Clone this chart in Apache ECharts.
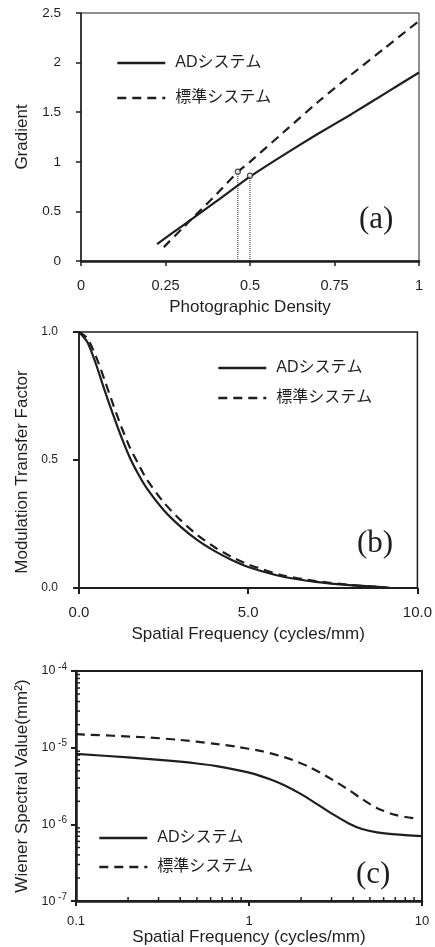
<!DOCTYPE html>
<html>
<head>
    <meta charset="utf-8">
    <title>AD system vs standard system</title>
    <script src="https://cdn.jsdelivr.net/npm/echarts@6/dist/echarts.min.js"></script>
    <style>
        html, body {
            margin: 0;
            width: 100%;
            height: 100%;
            background: #fff;
        }

        #main {
            width: 435px;
            height: 947px;
        }
    </style>
</head>
<body>
<div id="main"></div>
<script type="text/javascript">
    var myChart = echarts.init(document.getElementById('main'));

    const nameAD = 'ADシステム'
    const nameStd = '標準システム'

    // (a) gradient vs photographic density
    const gradAD = [[0.225, 0.17], [0.3, 0.355], [0.4, 0.6], [0.5, 0.85], [0.6, 1.07], [0.7, 1.28], [0.8, 1.48], [0.9, 1.69], [1.0, 1.9]]
    const gradStd = [[0.245, 0.14], [0.3, 0.33], [0.35, 0.5], [0.4, 0.67], [0.465, 0.9], [0.5, 1.0], [0.6, 1.3], [0.7, 1.6], [0.8, 1.88], [0.9, 2.15], [1.0, 2.42]]
    const markStd = [0.464, 0.9]
    const markAD = [0.5, 0.86]

    // (b) MTF
    const mtfFreq = [0, 0.25, 0.5, 0.75, 1, 1.25, 1.5, 1.75, 2, 2.5, 3, 3.5, 4, 4.5, 5, 6, 7, 8, 9, 9.2]
    const mtfAD = [1.0, 0.96, 0.875, 0.775, 0.68, 0.59, 0.51, 0.445, 0.39, 0.305, 0.24, 0.187, 0.145, 0.11, 0.082, 0.045, 0.024, 0.011, 0.003, 0]
    const mtfStd = [1.0, 0.975, 0.905, 0.815, 0.72, 0.63, 0.55, 0.485, 0.425, 0.335, 0.265, 0.207, 0.16, 0.122, 0.092, 0.05, 0.027, 0.012, 0.003, 0]

    // (c) Wiener spectrum
    const wsFreqAD = [0.1, 0.2, 0.33, 0.5, 0.65, 1.0, 1.3, 1.6, 2.0, 2.5, 3.0, 3.8, 4.5, 5.5, 7, 10]
    const wsAD = [8.3e-6, 7.48e-6, 6.82e-6, 6.22e-6, 5.75e-6, 4.74e-6, 3.94e-6, 3.24e-6, 2.48e-6, 1.81e-6, 1.39e-6, 1.02e-6, 8.7e-7, 7.87e-7, 7.41e-7, 7.03e-7]
    const wsFreqStd = [0.1, 0.25, 0.4, 0.62, 0.85, 1.16, 1.5, 1.8, 2.2, 2.57, 3.2, 3.84, 4.5, 5.47, 7, 9]
    const wsStd = [1.5e-5, 1.368e-5, 1.262e-5, 1.13e-5, 1.028e-5, 9.08e-6, 7.87e-6, 6.87e-6, 5.68e-6, 4.74e-6, 3.56e-6, 2.74e-6, 2.14e-6, 1.64e-6, 1.33e-6, 1.2e-6]

    const ink = '#1e1e1e'
    const sans = "'Liberation Sans', Arial, sans-serif"
    const jp = "'Liberation Sans', 'Noto Sans CJK JP', sans-serif"

    // minor ticks for the log panel (2..9 in each decade)
    const minorX = []
    const minorY = []
    ;[0.1, 1].forEach(d => { for (let i = 2; i < 10; i++) minorX.push([d * i, 1e-7]) })
    ;[1e-7, 1e-6, 1e-5].forEach(d => { for (let i = 2; i < 10; i++) minorY.push([0.1, d * i]) })

    const zip = (xs, ys) => xs.map((x, i) => [x, ys[i]])

    function lineSeries(name, data, idx, dashed) {
        return {
            name: name,
            type: 'line',
            xAxisIndex: idx,
            yAxisIndex: idx,
            data: data,
            symbol: 'none',
            smooth: 0.25,
            silent: true,
            itemStyle: {color: ink},
            lineStyle: {
                color: ink,
                width: 2.2,
                type: dashed ? [9, 6] : 'solid'
            }
        }
    }

    function dropLine(p) {
        return {
            type: 'line',
            xAxisIndex: 0,
            yAxisIndex: 0,
            data: [[p[0], 0], p],
            symbol: 'none',
            lineStyle: {color: ink, width: 1, type: [1, 1]},
            silent: true
        }
    }

    function tickSeries(data, horizontal) {
        return {
            type: 'custom',
            xAxisIndex: 2,
            yAxisIndex: 2,
            data: data,
            silent: true,
            clip: false,
            renderItem: function (params, api) {
                const p = api.coord([api.value(0), api.value(1)])
                return {
                    type: 'line',
                    shape: horizontal
                        ? {x1: p[0], y1: p[1], x2: p[0], y2: p[1] - 4}
                        : {x1: p[0], y1: p[1], x2: p[0] + 4, y2: p[1]},
                    style: {stroke: ink, lineWidth: 1.5}
                }
            }
        }
    }

    function legendAt(left, top, gap) {
        return {
            orient: 'vertical',
            left: left,
            top: top,
            padding: 0,
            itemGap: gap,
            itemWidth: 48,
            itemHeight: 16,
            data: [nameAD, nameStd],
            selectedMode: false,
            itemStyle: {opacity: 0},
            lineStyle: {width: 2.6},
            textStyle: {
                fontFamily: jp,
                fontSize: 16,
                color: ink,
                lineHeight: 16,
                padding: [0, 0, 0, 5]
            }
        }
    }

    const axisLine = (w) => ({show: true, lineStyle: {color: ink, width: w}})
    const labelStyle = (size) => ({color: ink, fontFamily: sans, fontSize: size})
    const nameStyle = {color: ink, fontFamily: sans, fontSize: 17}

    const supFormatter = v => '10{s| ' + Math.round(Math.log10(v)) + '}'

    var option = {
        animation: false,
        backgroundColor: '#fff',
        grid: [
            {left: 81, right: 16, top: 13, height: 248, show: true, borderColor: ink, borderWidth: 1},
            {left: 79, right: 16, top: 332, height: 256, show: true, borderColor: ink, borderWidth: 1.5},
            {left: 76, right: 13, top: 671, height: 233, show: true, borderColor: ink, borderWidth: 2}
        ],
        legend: [
            legendAt(116, 55, 19),
            legendAt(217, 360, 14),
            legendAt(98, 830, 13)
        ],
        graphic: [
            {type: 'text', left: 359, top: 204, style: {text: '(a)', font: "31px 'Liberation Serif', serif", fill: ink}},
            {type: 'text', left: 357, top: 528, style: {text: '(b)', font: "31px 'Liberation Serif', serif", fill: ink}},
            {type: 'text', left: 356, top: 859, style: {text: '(c)', font: "31px 'Liberation Serif', serif", fill: ink}}
        ],
        xAxis: [
            {
                gridIndex: 0, type: 'value', min: 0, max: 1, interval: 0.25,
                name: 'Photographic Density', nameLocation: 'middle', nameGap: 38, nameTextStyle: nameStyle,
                axisLine: axisLine(2.5),
                axisTick: {show: true, length: 5, lineStyle: {color: ink, width: 1.5}},
                axisLabel: Object.assign({margin: 17}, labelStyle(14.5)),
                splitLine: {show: false}
            },
            {
                gridIndex: 1, type: 'value', min: 0, max: 10, interval: 5,
                name: 'Spatial Frequency (cycles/mm)', nameLocation: 'middle', nameGap: 38, nameTextStyle: nameStyle,
                axisLine: axisLine(2),
                axisTick: {show: true, length: 6, lineStyle: {color: ink, width: 2}},
                axisLabel: Object.assign({margin: 17, formatter: v => v.toFixed(1)}, labelStyle(15)),
                splitLine: {show: false}
            },
            {
                gridIndex: 2, type: 'log', logBase: 10, min: 0.1, max: 10,
                name: 'Spatial Frequency (cycles/mm)', nameLocation: 'middle', nameGap: 24, nameTextStyle: nameStyle,
                axisLine: axisLine(2.5),
                axisTick: {show: true, length: 5, lineStyle: {color: ink, width: 2}},
                axisLabel: Object.assign({margin: 14, formatter: v => String(+v.toPrecision(3))}, labelStyle(13)),
                splitLine: {show: false}
            }
        ],
        yAxis: [
            {
                gridIndex: 0, type: 'value', min: 0, max: 2.5, interval: 0.5,
                name: 'Gradient', nameLocation: 'middle', nameGap: 50, nameTextStyle: nameStyle,
                axisLine: axisLine(1.5),
                axisTick: {show: true, length: 5, lineStyle: {color: ink, width: 1.5}},
                axisLabel: Object.assign({margin: 20}, labelStyle(13.5)),
                splitLine: {show: false}
            },
            {
                gridIndex: 1, type: 'value', min: 0, max: 1, interval: 0.5,
                name: 'Modulation Transfer Factor', nameLocation: 'middle', nameGap: 43,
                nameTextStyle: Object.assign({padding: [0, 24, 0, 0]}, nameStyle),
                axisLine: axisLine(1.5),
                axisTick: {show: true, length: 6, lineStyle: {color: ink, width: 2}},
                axisLabel: Object.assign({margin: 21, formatter: v => v.toFixed(1)}, labelStyle(12)),
                splitLine: {show: false}
            },
            {
                gridIndex: 2, type: 'log', logBase: 10, min: 1e-7, max: 1e-4,
                name: 'Wiener Spectral Value(mm²)', nameLocation: 'middle', nameGap: 40, nameTextStyle: nameStyle,
                axisLine: axisLine(2.5),
                axisTick: {show: true, length: 5, lineStyle: {color: ink, width: 2}},
                axisLabel: Object.assign({
                    margin: 9,
                    formatter: supFormatter,
                    rich: {s: {fontFamily: sans, fontSize: 10, color: ink, verticalAlign: 'top', padding: [0, 0, 8, 0]}}
                }, labelStyle(12.5)),
                splitLine: {show: false}
            }
        ],
        series: [
            lineSeries(nameAD, gradAD, 0, false),
            lineSeries(nameStd, gradStd, 0, true),
            dropLine(markStd),
            dropLine(markAD),
            {
                type: 'scatter',
                xAxisIndex: 0,
                yAxisIndex: 0,
                data: [markStd, markAD],
                symbol: 'circle',
                symbolSize: 5,
                z: 5,
                silent: true,
                itemStyle: {color: '#fff', borderColor: ink, borderWidth: 1.2}
            },
            lineSeries(nameAD, zip(mtfFreq, mtfAD), 1, false),
            lineSeries(nameStd, zip(mtfFreq, mtfStd), 1, true),
            lineSeries(nameAD, zip(wsFreqAD, wsAD), 2, false),
            lineSeries(nameStd, zip(wsFreqStd, wsStd), 2, true),
            tickSeries(minorX, true),
            tickSeries(minorY, false)
        ]
    };

    myChart.setOption(option);
</script>
</body>
</html>
